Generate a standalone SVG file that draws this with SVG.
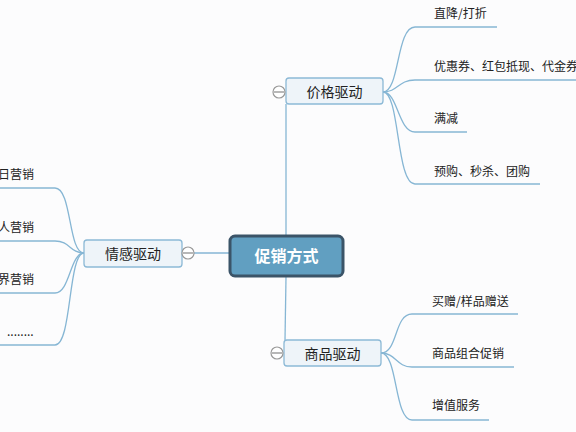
<svg xmlns="http://www.w3.org/2000/svg" width="576" height="432" viewBox="0 0 576 432">
<style>
.bg{fill:#fcfcfd}
.ln{fill:none;stroke:#86b6d4;stroke-width:1.3}
.sub rect{fill:#eef4f9;stroke:#8cb9d6;stroke-width:1.3}
.t{font-family:"Noto Sans CJK SC","Noto Sans",sans-serif;font-size:12px;fill:#222}
.st{font-family:"Noto Sans CJK SC","Noto Sans",sans-serif;font-size:14px;fill:#222;text-anchor:middle}
.ct{font-family:"Noto Sans CJK SC","Noto Sans",sans-serif;font-size:16px;font-weight:bold;fill:#fff;text-anchor:middle}
.tog circle{fill:#fff;stroke:#999;stroke-width:1.2}
.tog line{stroke:#888;stroke-width:1.2}
</style>
<rect class="bg" x="0" y="0" width="576" height="432"/>
<g id="connectors">
<path class="ln" d="M286,236 L286,104"/>
<path class="ln" d="M286,277 L285,340"/>
<path class="ln" d="M194,253 L229,253"/>
<path class="ln" d="M383,92 C400,92 396,27 415,27 L497,27"/>
<path class="ln" d="M383,92 C398,92 398,80 415,80 L576,80"/>
<path class="ln" d="M383,92 C398,92 398,132 415,132 L467,132"/>
<path class="ln" d="M383,92 C400,92 396,184 415,184 L540,184"/>
<path class="ln" d="M381,353 C398,353 394,314 412,314 L518,314"/>
<path class="ln" d="M381,353 C396,353 396,367 412,367 L514,367"/>
<path class="ln" d="M381,353 C398,353 394,420 412,420 L489,420"/>
<path class="ln" d="M84,253 C68,253 72,188 55,188 L0,188"/>
<path class="ln" d="M84,253 C70,253 70,241 55,241 L0,241"/>
<path class="ln" d="M84,253 C70,253 70,293 55,293 L0,293"/>
<path class="ln" d="M84,253 C68,253 72,345 55,345 L0,345"/>
</g>
<g id="center">
<rect x="230" y="236" width="113" height="40" rx="5" fill="#619fc1" stroke="#3b5468" stroke-width="3"/>
<text class="ct" x="286.5" y="262">促销方式</text>
</g>
<g id="price" class="sub">
<rect x="286" y="78" width="97" height="26" rx="3"/>
<text class="st" x="334.5" y="96.5">价格驱动</text>
</g>
<g id="price-toggle" class="tog"><circle cx="279" cy="92" r="6"/><line x1="274" y1="92" x2="284" y2="92"/></g>
<g id="goods" class="sub">
<rect x="284" y="340" width="97" height="26" rx="3"/>
<text class="st" x="332.5" y="358.5">商品驱动</text>
</g>
<g id="goods-toggle" class="tog"><circle cx="277" cy="353" r="6"/><line x1="272" y1="353" x2="282" y2="353"/></g>
<g id="emotion" class="sub">
<rect x="84" y="240" width="98" height="27" rx="3"/>
<text class="st" x="133" y="258.5">情感驱动</text>
</g>
<g id="emotion-toggle" class="tog"><circle cx="188" cy="253" r="6"/><line x1="183" y1="253" x2="193" y2="253"/></g>
<g id="p1"><text class="t" x="434" y="17.5">直降/打折</text></g>
<g id="p2"><text class="t" x="434" y="70.5">优惠券、红包抵现、代金券</text></g>
<g id="p3"><text class="t" x="434" y="122.5">满减</text></g>
<g id="p4"><text class="t" x="434" y="175.5">预购、秒杀、团购</text></g>
<g id="g1"><text class="t" x="432" y="305.5">买赠/样品赠送</text></g>
<g id="g2"><text class="t" x="432" y="357.5">商品组合促销</text></g>
<g id="g3"><text class="t" x="432" y="409.5">增值服务</text></g>
<g id="e1"><text class="t" x="34" y="178.5" text-anchor="end">日营销</text></g>
<g id="e2"><text class="t" x="34" y="231.5" text-anchor="end">人营销</text></g>
<g id="e3"><text class="t" x="34" y="283.5" text-anchor="end">界营销</text></g>
<g id="e4"><text class="t" x="7" y="336">........</text></g>
</svg>
